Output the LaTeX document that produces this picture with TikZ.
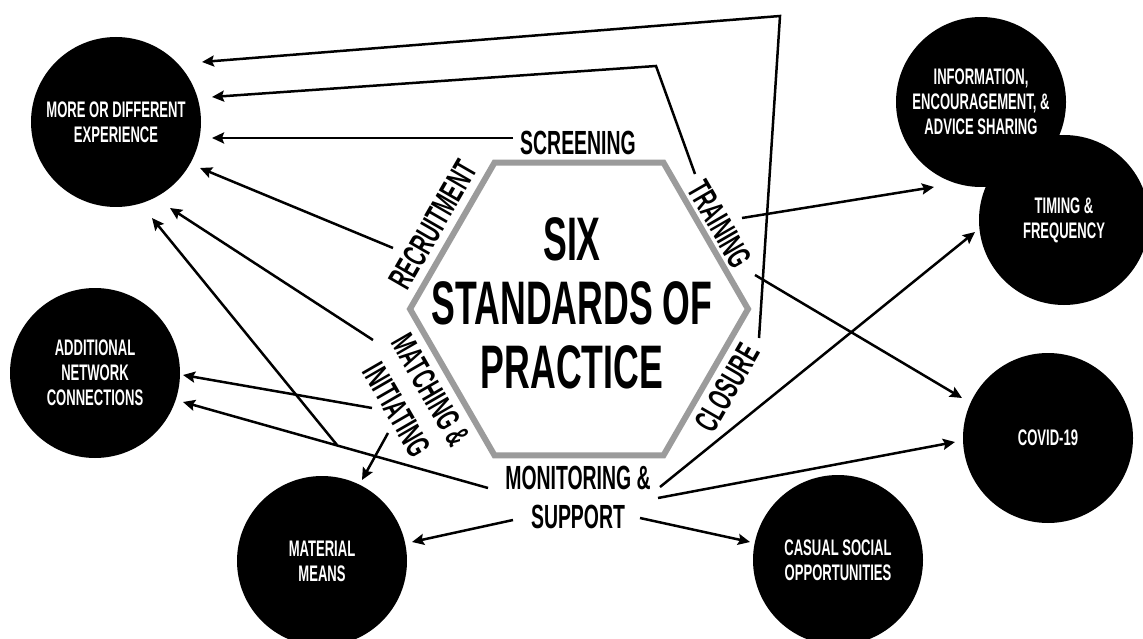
\documentclass[tikz,border=0pt]{standalone}
\usepackage{fontspec}
\setmainfont{Liberation Sans}[FakeStretch=0.58]
\usetikzlibrary{arrows.meta}
\definecolor{hexgray}{HTML}{9B9B9B}
\begin{document}
\begin{tikzpicture}[x=1pt,y=-1pt,
 bub/.style={circle,fill=black,text=white,minimum size=170pt,inner sep=0pt,align=center,font=\fontsize{22.5}{25}\selectfont\bfseries},
 lbl/.style={inner sep=0pt,align=center,font=\fontsize{33.5}{39}\selectfont\bfseries},
 arr/.style={line width=2.5pt,line join=miter,-{Stealth[length=12pt,width=11pt,inset=2pt]}},
 hexline/.style={draw=hexgray,line width=6pt,line join=miter}]
\useasboundingbox (0,0) rectangle (1143,639);
\clip (0,0) rectangle (1143,639);
\fill[white] (0,0) rectangle (1143,639);

% circles
\node[bub] (more) at (116,122) {MORE OR DIFFERENT\\EXPERIENCE};
\node[bub] (info) at (981,102) {INFORMATION,\\ENCOURAGEMENT, \&\\ADVICE SHARING};
\node[bub] (timing) at (1064,220) {TIMING \&\\FREQUENCY};
\node[bub] (addl) at (95,373) {ADDITIONAL\\NETWORK\\CONNECTIONS};
\node[bub] (material) at (322,561) {MATERIAL\\MEANS};
\node[bub] (covid) at (1048,438) {COVID-19};
\node[bub] (casual) at (838,560) {CASUAL SOCIAL\\OPPORTUNITIES};

% hexagon
\coordinate (hc) at (579,309);
\draw[hexline] ([shift={(0:169)}]hc) -- ([shift={(60:169)}]hc) -- ([shift={(120:169)}]hc)
  -- ([shift={(180:169)}]hc) -- ([shift={(240:169)}]hc) -- ([shift={(300:169)}]hc) -- cycle;
\node[font=\fontsize{61.5}{64}\selectfont\bfseries,align=center,inner sep=0pt] (title) at (572,303) {SIX\\STANDARDS OF\\PRACTICE};

% labels
\node[lbl] (scr) at (578,143) {SCREENING};
\node[lbl,rotate=60] (rec) at (433,225) {RECRUITMENT};
\node[lbl,rotate=-60] (tra) at (720,224) {TRAINING};
\node[lbl,rotate=60] (clo) at (727,388) {CLOSURE};
\node[lbl,rotate=-60] (mat) at (414,400) {MATCHING \&\\INITIATING};
\node[lbl] (mon) at (578,497) {MONITORING \&\\SUPPORT};

% connectors
\coordinate (sClo) at (759,338); \coordinate (kClo) at (780,16);
\draw[arr] (sClo) -- (kClo) -- ([shift={(86,-60)}]more.center);
\coordinate (sTra1) at (695,174); \coordinate (kTra) at (656,66);
\draw[arr] (sTra1) -- (kTra) -- ([shift={(96,-25)}]more.center);
\coordinate (sScr) at (513,138);
\draw[arr] (sScr) -- ([shift={(96,16)}]more.center);
\coordinate (sRec) at (393,248);
\draw[arr] (sRec) -- ([shift={(84,46)}]more.center);
\coordinate (sMat1) at (373,340);
\draw[arr] (sMat1) -- ([shift={(54,86)}]more.center);
\coordinate (sMon1) at (488,488); \coordinate (kMon) at (337,445);
\draw[arr] (kMon) -- ([shift={(36,96)}]more.center);
\draw[arr] (sMon1) -- ([shift={(88,29)}]addl.center);
\coordinate (sMat2) at (372,408);
\draw[arr] (sMat2) -- ([shift={(88,2)}]addl.center);
\coordinate (sMat3) at (388,433);
\draw[arr] (sMat3) -- ([shift={(40,-81)}]material.center);
\coordinate (sMon2) at (513,520);
\draw[arr] (sMon2) -- ([shift={(90,-19)}]material.center);
\coordinate (sMon3) at (640,518);
\draw[arr] (sMon3) -- ([shift={(-88,-18)}]casual.center);
\coordinate (sMon4) at (658,498);
\draw[arr] (sMon4) -- ([shift={(-93,4)}]covid.center);
\coordinate (sMon5) at (660,487);
\draw[arr] (sMon5) -- ([shift={(-89,12)}]timing.center);
\coordinate (sTra2) at (742,218);
\draw[arr] (sTra2) -- ([shift={(-47,85)}]info.center);
\coordinate (sTra3) at (755,275);
\draw[arr] (sTra3) -- ([shift={(-86,-40)}]covid.center);
\end{tikzpicture}
\end{document}
